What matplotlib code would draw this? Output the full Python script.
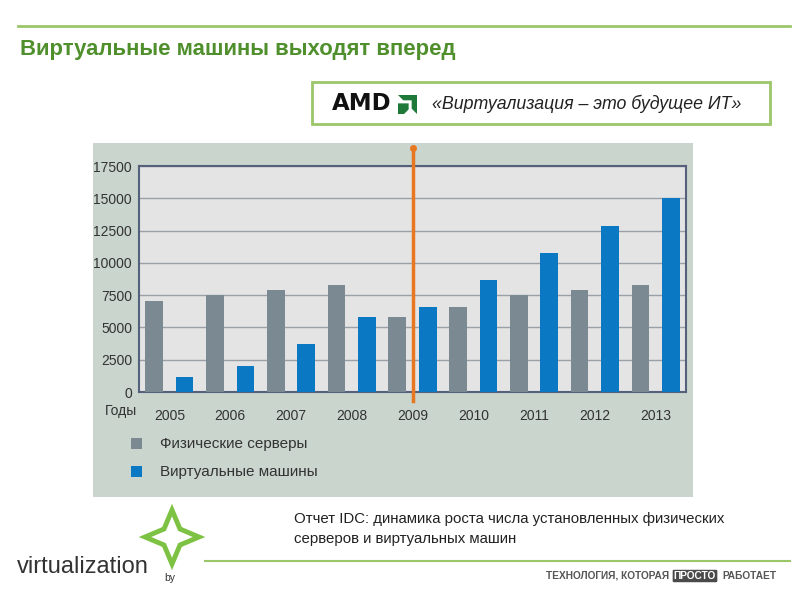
import numpy as np
import matplotlib
matplotlib.use('Agg')
import matplotlib.pyplot as plt
from matplotlib import font_manager
from matplotlib.patches import Rectangle, Polygon

# data
years = ['2005', '2006', '2007', '2008', '2009', '2010', '2011', '2012', '2013']
physical = [7050, 7500, 7900, 8300, 5800, 6600, 7500, 7900, 8300]
virtual = [1200, 2000, 3700, 5800, 6600, 8700, 10800, 12850, 15000]
yticks = [0, 2500, 5000, 7500, 10000, 12500, 15000, 17500]
legend_labels = ['Физические серверы', 'Виртуальные машины']

names = {f.name for f in font_manager.fontManager.ttflist}
narrow = 'Liberation Sans Narrow' if 'Liberation Sans Narrow' in names else 'Liberation Sans'
plt.rcParams['font.family'] = ['Liberation Sans', 'DejaVu Sans']

c_gray = '#7b8a92'
c_blue = '#0a78c2'
c_green = '#4f8f2c'
c_lgreen = '#9cc66a'

fig = plt.figure(figsize=(8, 6), dpi=100)

# background axes in pixel coords
bg = fig.add_axes([0, 0, 1, 1])
bg.set_xlim(0, 800)
bg.set_ylim(600, 0)
bg.axis('off')

# top line and title
bg.plot([18, 790], [26, 26], color=c_lgreen, lw=2)
bg.text(20, 49, 'Виртуальные машины выходят вперед', fontsize=15.9, fontweight='bold',
        color=c_green, va='center', ha='left')

# AMD box
bg.add_patch(Rectangle((312, 82), 458, 42, facecolor='white', edgecolor=c_lgreen, lw=2))
bg.text(332, 104, 'AMD', fontsize=16.5, fontweight='black', color='#111111',
        va='center', ha='left', family='DejaVu Sans')
lx, ly, ls = 398, 95, 19
outer = [(0, 0), (1, 0), (1, 1), (0.72, 0.72), (0.72, 0.28), (0.28, 0.28)]
inner = [(0.0, 1.0), (0.0, 0.44), (0.56, 0.44), (0.56, 0.76), (0.32, 1.0)]
bg.add_patch(Polygon([(lx + ls * a, ly + ls * b) for a, b in outer], closed=True,
                     facecolor='#1f7a3a', edgecolor='none'))
bg.add_patch(Polygon([(lx + ls * a, ly + ls * b) for a, b in inner], closed=True,
                     facecolor='#1f7a3a', edgecolor='none'))
bg.text(432, 104, '«Виртуализация – это будущее ИТ»', fontsize=12.8, style='italic',
        color='#222222', va='center', ha='left')

# chart panel
bg.add_patch(Rectangle((93, 143), 600, 354, facecolor='#c9d5cd', edgecolor='none'))

# legend
bg.add_patch(Rectangle((131, 438), 11, 11, facecolor=c_gray, edgecolor='none'))
bg.add_patch(Rectangle((131, 466), 11, 11, facecolor=c_blue, edgecolor='none'))
bg.text(160, 444, legend_labels[0], fontsize=11, color='#333333', va='center', family=narrow)
bg.text(160, 472, legend_labels[1], fontsize=11, color='#333333', va='center', family=narrow)
bg.text(121, 411, 'Годы', fontsize=10, color='#333333', va='center', ha='center', family=narrow)

# caption
bg.text(294, 519, 'Отчет IDC: динамика роста числа установленных физических', fontsize=10.8,
        color='#222222', va='center', family=narrow)
bg.text(294, 539, 'серверов и виртуальных машин', fontsize=10.8,
        color='#222222', va='center', family=narrow)

# footer
bg.plot([205, 790], [561, 561], color=c_lgreen, lw=1.5)
bg.text(669, 576, 'ТЕХНОЛОГИЯ, КОТОРАЯ', fontsize=7.3, fontweight='bold', color='#555555',
        va='center', ha='right', family=narrow)
bg.text(695, 576, 'ПРОСТО', fontsize=7.3, fontweight='bold', color='white', va='center', ha='center',
        family=narrow, bbox=dict(boxstyle='round,pad=0.12', facecolor='#4a4a4a', edgecolor='none'))
bg.text(722, 576, 'РАБОТАЕТ', fontsize=7.3, fontweight='bold', color='#555555',
        va='center', ha='left', family=narrow)

# logo
bg.text(17, 567, 'virtualization', fontsize=17, color='#333333', va='center', ha='left', family=narrow)
bg.text(164, 578, 'by', fontsize=7.5, color='#333333', va='center', ha='left')
cx, cy, r, q = 172, 537, 27, 8
star = [(cx, cy - r), (cx + q, cy - q), (cx + r, cy), (cx + q, cy + q),
        (cx, cy + r), (cx - q, cy + q), (cx - r, cy), (cx - q, cy - q)]
bg.add_patch(Polygon(star, closed=True, facecolor='none', edgecolor='#7dc242', lw=3.5, joinstyle='miter'))

# chart axes
ax = fig.add_axes([139 / 800, 1 - 392 / 600, (686 - 139) / 800, (392 - 166) / 600])
ax.set_facecolor('#e4e4e4')
x = np.arange(len(years))
ax.bar(2 * x, physical, width=0.58, color=c_gray, zorder=3)
ax.bar(2 * x + 1, virtual, width=0.58, color=c_blue, zorder=3)
ax.set_xlim(-0.5, 2 * len(years) - 0.5)
ax.set_ylim(0, 17500)
ax.set_yticks(yticks)
ax.set_yticklabels([str(v) for v in yticks], family=narrow, fontsize=10, color='#333333')
ax.set_xticks(2 * x + 0.5)
ax.set_xticklabels(years, family=narrow, fontsize=10, color='#333333')
ax.tick_params(length=0, pad=5)
ax.tick_params(axis='x', pad=12)
ax.grid(axis='y', color='#9aa0a8', lw=1, zorder=1)
for s in ax.spines.values():
    s.set_color('#55607a')
    s.set_linewidth(1.5)

# orange marker line between 2009 bars
ax.axvline(8.5, ymin=-0.04, ymax=1.08, color='#e87722', lw=2.5, clip_on=False, zorder=5)
ax.plot([8.5], [17500 * 1.08], 'o', color='#e87722', ms=4, clip_on=False, zorder=5)

fig.savefig('out.png', dpi=100)
